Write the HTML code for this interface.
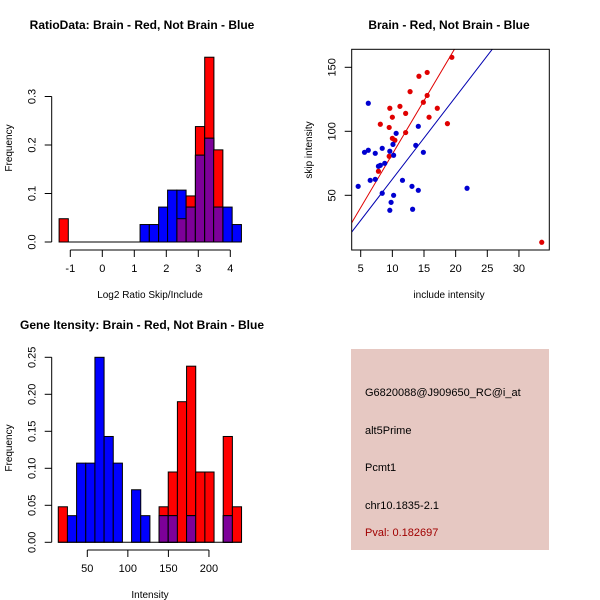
<!DOCTYPE html>
<html><head><meta charset="utf-8"><style>
body{margin:0;background:#fff}
svg{display:block;font-family:"Liberation Sans",sans-serif}
</style></head><body>
<svg id="s" width="600" height="600" viewBox="0 0 600 600">
<rect width="600" height="600" fill="#fff"/>
<text x="142" y="29" font-size="12" font-weight="bold" text-anchor="middle">RatioData: Brain - Red, Not Brain - Blue</text>
<text x="449" y="29" font-size="12" font-weight="bold" text-anchor="middle">Brain - Red, Not Brain - Blue</text>
<text x="142" y="329" font-size="12" font-weight="bold" text-anchor="middle">Gene Itensity: Brain - Red, Not Brain - Blue</text>
<text x="150" y="298" font-size="10" text-anchor="middle">Log2 Ratio Skip/Include</text>
<text x="12" y="148" font-size="10" text-anchor="middle" transform="rotate(-90 12 148)">Frequency</text>
<text x="449" y="298" font-size="10" text-anchor="middle">include intensity</text>
<text x="312" y="150" font-size="10" text-anchor="middle" transform="rotate(-90 312 150)">skip intensity</text>
<text x="150" y="598" font-size="10" text-anchor="middle">Intensity</text>
<text x="12" y="448" font-size="10" text-anchor="middle" transform="rotate(-90 12 448)">Frequency</text>
<g id="g1"></g>
<g id="g2"></g>
<g id="g3"></g>
<g>
<rect x="351" y="349" width="198" height="201" fill="#e6c8c2"/>
<g font-size="11">
<text x="365" y="396">G6820088@J909650_RC@i_at</text>
<text x="365" y="434">alt5Prime</text>
<text x="365" y="471">Pcmt1</text>
<text x="365" y="509">chr10.1835-2.1</text>
<text x="365" y="536" fill="#a00000">Pval: 0.182697</text>
</g></g>
</svg>
<script>
// ---- Ratio histogram data ----
const ratioBinWidth = 0.288;
const ratioRedEdges = [-1.35, 2.33, 2.62, 2.91, 3.20, 3.48];
const ratioRedFreq  = [0.048, 0.048, 0.095, 0.238, 0.381, 0.190];
const ratioBlueEdges = [1.18, 1.47, 1.76, 2.04, 2.33, 2.62, 2.91, 3.20, 3.48, 3.77, 4.06];
const ratioBlueFreq  = [0.036, 0.036, 0.072, 0.107, 0.107, 0.072, 0.179, 0.214, 0.072, 0.072, 0.036];
const ratioXTicks = [-1, 0, 1, 2, 3, 4];
const ratioYTicks = [0, 0.1, 0.2, 0.3];
// ---- Scatter data ----
const redX = [19.4,15.5,14.2,12.8,15.5,14.9,11.2,9.6,17.1,12.1,10,15.8,18.7,8.1,9.5,12.1,10,10.4,9.5,7.8,33.6];
const redY = [157.8,146,143,131,128,122.7,119.5,118,118,114,111,111,106,105.5,103,99,94.5,93,80.5,68.8,13.3];
const blueX = [6.2,14.1,10.6,10.1,13.7,5.6,6.2,14.9,8.4,7.3,9.6,10.2,8.8,8.1,7.8,6.5,7.3,4.6,11.6,13.1,14.1,21.8,8.4,10.2,9.8,9.6,13.2];
const blueY = [121.9,103.9,98.4,89.8,89,83.6,85.2,83.6,86.7,82.8,84.4,81.3,75,73.4,72.7,61.7,62.5,57,61.7,57,53.9,55.5,51.6,50,44.5,38.3,39.1];
const redFit = [-1.3, 8.35];
const blueFit = [-1.7, 6.43];
const scatXTicks = [5,10,15,20,25,30];
const scatYTicks = [50,100,150];
// ---- Intensity histogram data ----
const intStart = 14.2, intBinWidth = 11.3;
const intRedBins = [0, 11, 12, 13, 14, 15, 16, 18, 19];
const intRedFreq = [0.048, 0.048, 0.095, 0.190, 0.238, 0.095, 0.095, 0.143, 0.048];
const intBlueBins = [1, 2, 3, 4, 5, 6, 8, 9, 11, 12, 14, 18];
const intBlueFreq = [0.036, 0.107, 0.107, 0.250, 0.143, 0.107, 0.071, 0.036, 0.036, 0.036, 0.036, 0.036];
const intXTicks = [50,100,150,200];
const intYTicks = [0,0.05,0.10,0.15,0.20,0.25];
const intYLabels = ["0.00","0.05","0.10","0.15","0.20","0.25"];

const NS="http://www.w3.org/2000/svg";
function mk(p,t,a){const e=document.createElementNS(NS,t);for(const k in a)e.setAttribute(k,a[k]);p.appendChild(e);return e;}
const PURPLE="#7d0099";
const LOFF=20, XLAB=22;

function drawHist(g, bars, xs, ys){
  bars.forEach(b=>{
    const x0=xs(b.l), x1=xs(b.l+b.w);
    const mn=Math.min(b.r,b.b);
    if(b.r>0){const e=mk(g,'rect',{x:x0,y:ys(b.r),width:x1-x0,height:ys(0)-ys(b.r),fill:'#ff0000',stroke:'#000','stroke-width':1});
      
      }
    if(b.b>0){const e=mk(g,'rect',{x:x0,y:ys(b.b),width:x1-x0,height:ys(0)-ys(b.b),fill:'#0000ff',stroke:'#000','stroke-width':1});
      
      }
    if(b.r>0&&b.b>0){const e=mk(g,'rect',{x:x0,y:ys(mn),width:x1-x0,height:ys(0)-ys(mn),fill:PURPLE,stroke:'#000','stroke-width':1});
      
      }
  });
}
function merge(rl,rf,bl,bf,w){
  const m=new Map();
  rl.forEach((l,i)=>{const k=l.toFixed(3);m.set(k,{l:l,w:w,r:rf[i],b:0});});
  bl.forEach((l,i)=>{const k=l.toFixed(3);if(m.has(k))m.get(k).b=bf[i];else m.set(k,{l:l,w:w,r:0,b:bf[i]});});
  return [...m.values()];
}
function yAxis(g,x,ticks,labels,ys,y0,y1){
  mk(g,'line',{x1:x,y1:ys(y0),x2:x,y2:ys(y1),stroke:'#000'});
  ticks.forEach((t,i)=>{const y=ys(t);mk(g,'line',{x1:x-7,y1:y,x2:x,y2:y,stroke:'#000'});
    const tx=mk(g,'text',{x:x-LOFF+4,y:y,'font-size':11,'text-anchor':'middle',transform:`rotate(-90 ${x-LOFF+4} ${y})`});
    tx.textContent=labels[i];
    
    });
}
function xAxis(g,y,ticks,xs,ax0,ax1){
  mk(g,'line',{x1:xs(ax0),y1:y,x2:xs(ax1),y2:y,stroke:'#000'});
  ticks.forEach(t=>{const x=xs(t);mk(g,'line',{x1:x,y1:y,x2:x,y2:y+7,stroke:'#000'});
    const tx=mk(g,'text',{x:x,y:y+XLAB,'font-size':11,'text-anchor':'middle'});
    tx.textContent=String(t);
    
    });
}

// Panel 1
(function(){
  const g=document.getElementById('g1');
  const xs=v=>70.3+(v+1)*32, ys=v=>242-v*485;
  drawHist(g,merge(ratioRedEdges,ratioRedFreq,ratioBlueEdges,ratioBlueFreq,ratioBinWidth),xs,ys);
  mk(g,'line',{x1:xs(-1.35),y1:ys(0),x2:xs(4.35),y2:ys(0),stroke:'#000'});
  yAxis(g,51.7,ratioYTicks,ratioYTicks.map(v=>v.toFixed(1)),ys,0,0.3);
  xAxis(g,250,ratioXTicks,xs,-1,4);
})();

// Panel 2
(function(){
  const g=document.getElementById('g2');
  const xs=v=>360.7+(v-5)*6.33, ys=v=>195.3-(v-50)*1.28;
  const xmin=3.58,xmax=34.8;
  mk(g,'defs',{}).innerHTML='<clipPath id="cp"><rect x="351.7" y="49.3" width="197.6" height="200.7"/></clipPath>';
  const cl=mk(g,'g',{'clip-path':'url(#cp)'});
  [[redFit,'#e00000','red-fit-line'],[blueFit,'#0000b0','blue-fit-line']].forEach(([f,c,n])=>{
    const l=mk(cl,'line',{x1:xs(xmin),y1:ys(f[0]+f[1]*xmin),x2:xs(xmax),y2:ys(f[0]+f[1]*xmax),stroke:c,'stroke-width':1});
    
    
  });
  redX.forEach((x,i)=>{const c=mk(g,'circle',{cx:xs(x),cy:ys(redY[i]),r:2.6,fill:'#e00000'});
    
    });
  blueX.forEach((x,i)=>{const c=mk(g,'circle',{cx:xs(x),cy:ys(blueY[i]),r:2.6,fill:'#0000d0'});
    
    });
  mk(g,'rect',{x:351.7,y:49.3,width:197.6,height:200.7,fill:'none',stroke:'#000'});
  scatXTicks.forEach(t=>{const x=xs(t);mk(g,'line',{x1:x,y1:250,x2:x,y2:257,stroke:'#000'});
    const tx=mk(g,'text',{x:x,y:250+XLAB,'font-size':11,'text-anchor':'middle'});tx.textContent=t;
    
    });
  scatYTicks.forEach(t=>{const y=ys(t);mk(g,'line',{x1:344.7,y1:y,x2:351.7,y2:y,stroke:'#000'});
    const lx=351.7-LOFF+4;
    const tx=mk(g,'text',{x:lx,y:y,'font-size':11,'text-anchor':'middle',transform:`rotate(-90 ${lx} ${y})`});tx.textContent=t;
    
    });
})();

// Panel 3
(function(){
  const g=document.getElementById('g3');
  const xs=v=>87.3+(v-50)*0.811, ys=v=>542.3-v*740;
  const rl=intRedBins.map(i=>intStart+i*intBinWidth), bl=intBlueBins.map(i=>intStart+i*intBinWidth);
  drawHist(g,merge(rl,intRedFreq,bl,intBlueFreq,intBinWidth),xs,ys);
  mk(g,'line',{x1:xs(intStart),y1:ys(0),x2:xs(intStart+20*intBinWidth),y2:ys(0),stroke:'#000'});
  yAxis(g,51.7,intYTicks,intYLabels,ys,0,0.25);
  xAxis(g,550,intXTicks,xs,50,200);
})();
</script>
</body></html>
